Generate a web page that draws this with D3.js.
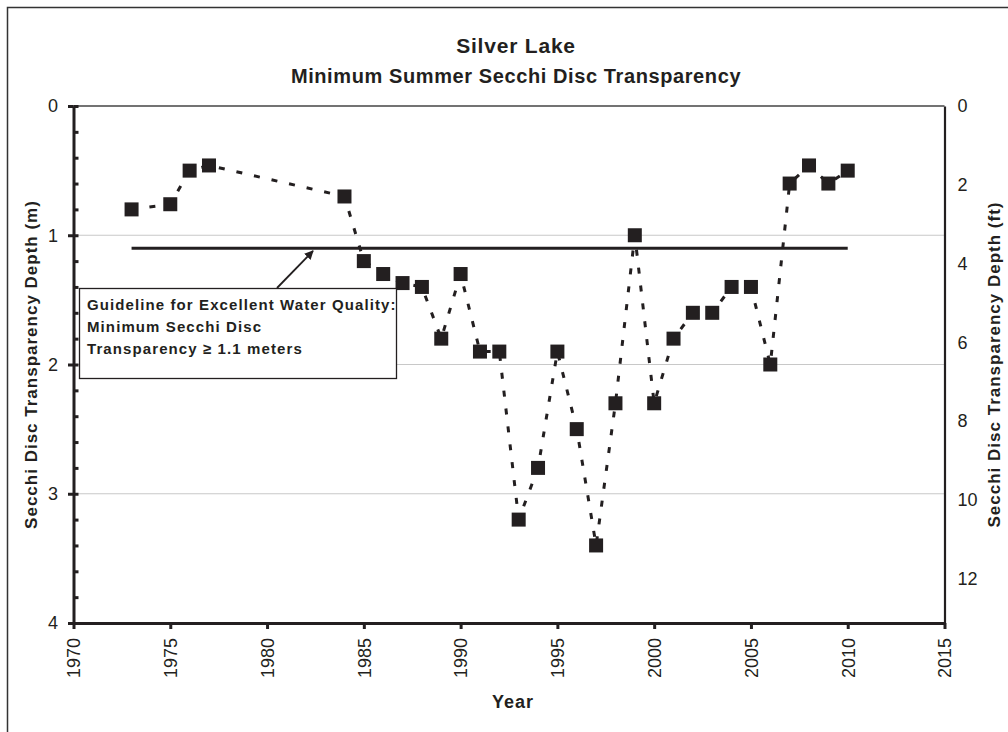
<!DOCTYPE html>
<html>
<head>
<meta charset="utf-8">
<script src="https://cdn.jsdelivr.net/npm/d3@7"></script>
<style>
  body { margin: 0; background: #fff; }
  svg { font-family: "Liberation Sans", Arial, sans-serif; }
</style>
</head>
<body>
<div id="chart"></div>
<script>
// Data
var years = [1973, 1975, 1976, 1977, 1984, 1985, 1986, 1987, 1988, 1989, 1990,
  1991, 1992, 1993, 1994, 1995, 1996, 1997, 1998, 1999, 2000, 2001, 2002,
  2003, 2004, 2005, 2006, 2007, 2008, 2009, 2010];
var depths = [0.8, 0.76, 0.5, 0.46, 0.7, 1.2, 1.3, 1.37, 1.4, 1.8, 1.3,
  1.9, 1.9, 3.2, 2.8, 1.9, 2.5, 3.4, 2.3, 1.0, 2.3, 1.8, 1.6,
  1.6, 1.4, 1.4, 2.0, 0.6, 0.46, 0.6, 0.5];
var guideYears = [1973, 2010];
var guideValue = 1.1;
var xTicks = [1970, 1975, 1980, 1985, 1990, 1995, 2000, 2005, 2010, 2015];
var mTicks = [0, 1, 2, 3, 4];
var ftTicks = [0, 2, 4, 6, 8, 10, 12];
var noteLines = ["Guideline for Excellent Water Quality:", "Minimum Secchi Disc", "Transparency \u2265 1.1 meters"];

var data = years.map((yr, i) => ({ year: yr, depth: depths[i] }));

var width = 1008, height = 732;
var ink = "#231f20";

var svg = d3.select("#chart").append("svg")
  .attr("width", width)
  .attr("height", height);

// outer frame (runs past the right/bottom edge like the original)
svg.append("rect")
  .attr("x", 7.5).attr("y", 7.5)
  .attr("width", 1020).attr("height", 740)
  .attr("fill", "none")
  .attr("stroke", "#333")
  .attr("stroke-width", 1.5);

// Scales
var x = d3.scaleLinear().domain([1970, 2015]).range([73.5, 944.5]);
var y = d3.scaleLinear().domain([0, 4]).range([106, 623]);
var yFt = d3.scaleLinear().domain([0, 4 * 3.28084]).range([106, 623]);

// gridlines
svg.append("g")
  .selectAll("line")
  .data([1, 2, 3])
  .enter().append("line")
  .attr("x1", x(1970)).attr("x2", x(2015))
  .attr("y1", (d) => y(d)).attr("y2", (d) => y(d))
  .attr("stroke", "#c8c8c8")
  .attr("stroke-width", 1.2);

// top border of plot
svg.append("line")
  .attr("x1", x(1970)).attr("x2", x(2015))
  .attr("y1", y(0)).attr("y2", y(0))
  .attr("stroke", "#444")
  .attr("stroke-width", 1.5);

// Right axis (ft)
var rightAxis = svg.append("g")
  .attr("transform", `translate(${x(2015)}, 0)`)
  .call(d3.axisRight(yFt).tickValues(ftTicks).tickSize(0).tickSizeOuter(0).tickPadding(13).tickFormat(d3.format("d")));
rightAxis.select(".domain").attr("stroke", ink).attr("stroke-width", 2.2);
rightAxis.selectAll("text").attr("font-size", 18).attr("fill", ink);

// Left axis (m): outer major ticks + labels
var leftAxis = svg.append("g")
  .attr("transform", `translate(${x(1970)}, 0)`)
  .call(d3.axisLeft(y).tickValues(mTicks).tickSize(5.5).tickSizeOuter(0).tickPadding(10).tickFormat(d3.format("d")));
leftAxis.select(".domain").attr("stroke", ink).attr("stroke-width", 3);
leftAxis.selectAll(".tick line").attr("stroke", ink).attr("stroke-width", 3);
leftAxis.selectAll("text").attr("font-size", 18).attr("fill", ink);

// inner minor ticks every 0.2 m
var minor = svg.append("g")
  .attr("transform", `translate(${x(1970)}, 0)`)
  .call(d3.axisRight(y).tickValues(d3.range(0, 4.01, 0.2)).tickSize(5).tickSizeOuter(0).tickFormat(""));
minor.select(".domain").remove();
minor.selectAll(".tick line").attr("stroke", ink).attr("stroke-width", 3);

// Bottom axis
var bottomAxis = svg.append("g")
  .attr("transform", `translate(0, ${y(4)})`)
  .call(d3.axisBottom(x).tickValues(xTicks).tickSize(6).tickSizeOuter(0).tickFormat(d3.format("d")));
bottomAxis.select(".domain").attr("stroke", ink).attr("stroke-width", 3);
bottomAxis.selectAll(".tick line").attr("stroke", ink).attr("stroke-width", 3);
bottomAxis.selectAll("text")
  .attr("font-size", 18)
  .attr("fill", ink)
  .attr("transform", "rotate(-90)")
  .attr("text-anchor", "end")
  .attr("x", -15)
  .attr("y", 0)
  .attr("dy", "0.35em");

// Guideline
svg.append("line")
  .attr("x1", x(guideYears[0])).attr("x2", x(guideYears[1]))
  .attr("y1", y(guideValue)).attr("y2", y(guideValue))
  .attr("stroke", ink)
  .attr("stroke-width", 3);

// Dashed data line
var line = d3.line()
  .x((d) => x(d.year))
  .y((d) => y(d.depth));

svg.append("path")
  .datum(data)
  .attr("d", line)
  .attr("fill", "none")
  .attr("stroke", ink)
  .attr("stroke-width", 3)
  .attr("stroke-dasharray", "6,12");

// Square markers
svg.selectAll(".pt")
  .data(data)
  .enter().append("rect")
  .attr("class", "pt")
  .attr("x", (d) => x(d.year) - 7)
  .attr("y", (d) => y(d.depth) - 7)
  .attr("width", 14)
  .attr("height", 14)
  .attr("fill", ink);

// Annotation box
svg.append("rect")
  .attr("x", 79.5).attr("y", 288.5)
  .attr("width", 317).attr("height", 90)
  .attr("fill", "#fff")
  .attr("stroke", ink)
  .attr("stroke-width", 1.3);

svg.append("g")
  .selectAll("text")
  .data(noteLines)
  .enter().append("text")
  .attr("x", 87)
  .attr("y", (d, i) => 309.5 + i * 22)
  .attr("font-size", 15)
  .attr("font-weight", "bold")
  .attr("letter-spacing", 1.1)
  .attr("fill", ink)
  .text((d) => d);

// Arrow
svg.append("defs").append("marker")
  .attr("id", "arrow")
  .attr("viewBox", "0 0 10 10")
  .attr("refX", 9).attr("refY", 5)
  .attr("markerWidth", 5).attr("markerHeight", 5)
  .attr("orient", "auto")
  .append("path")
  .attr("d", "M0,0 L10,5 L0,10 z")
  .attr("fill", ink);

svg.append("line")
  .attr("x1", 277).attr("y1", 288)
  .attr("x2", 313).attr("y2", 251)
  .attr("stroke", ink)
  .attr("stroke-width", 1.8)
  .attr("marker-end", "url(#arrow)");

// Titles
svg.append("text")
  .attr("x", 516).attr("y", 53)
  .attr("text-anchor", "middle")
  .attr("font-size", 21)
  .attr("font-weight", "bold")
  .attr("letter-spacing", 0.8)
  .attr("fill", ink)
  .text("Silver Lake");

svg.append("text")
  .attr("x", 516).attr("y", 83)
  .attr("text-anchor", "middle")
  .attr("font-size", 20)
  .attr("font-weight", "bold")
  .attr("letter-spacing", 0.6)
  .attr("fill", ink)
  .text("Minimum Summer Secchi Disc Transparency");

// Axis labels
svg.append("text")
  .attr("x", 513).attr("y", 707.5)
  .attr("text-anchor", "middle")
  .attr("font-size", 18)
  .attr("font-weight", "bold")
  .attr("letter-spacing", 1)
  .attr("fill", ink)
  .text("Year");

svg.append("text")
  .attr("transform", `translate(37, ${(y(0) + y(4)) / 2}) rotate(-90)`)
  .attr("text-anchor", "middle")
  .attr("font-size", 17)
  .attr("font-weight", "bold")
  .attr("letter-spacing", 1)
  .attr("fill", ink)
  .text("Secchi Disc Transparency Depth (m)");

svg.append("text")
  .attr("transform", `translate(1000, ${(y(0) + y(4)) / 2}) rotate(-90)`)
  .attr("text-anchor", "middle")
  .attr("font-size", 17)
  .attr("font-weight", "bold")
  .attr("letter-spacing", 1)
  .attr("fill", ink)
  .text("Secchi Disc Transparency Depth (ft)");
</script>
</body>
</html>
